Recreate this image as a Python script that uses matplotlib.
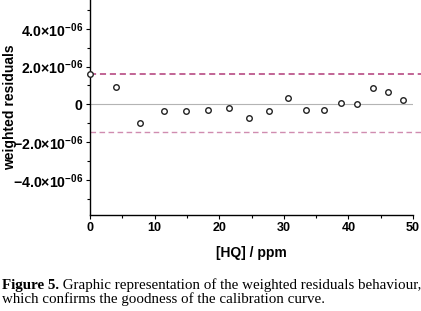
import numpy as np
import matplotlib
matplotlib.use("Agg")
import matplotlib.pyplot as plt

# values
conc = [0, 4.0, 7.7, 11.4, 14.8, 18.2, 21.5, 24.6, 27.7, 30.6, 33.4, 36.2, 38.8, 41.4, 43.8, 46.2, 48.5]
resid = [1.6e-6, 0.9e-6, -1.0e-6, -0.36e-6, -0.37e-6, -0.28e-6, -0.18e-6, -0.71e-6, -0.34e-6,
         0.35e-6, -0.32e-6, -0.30e-6, 0.05e-6, 0.03e-6, 0.86e-6, 0.63e-6, 0.23e-6]
upper_lim = 1.6e-6
lower_lim = -1.45e-6
yticks = [-4e-6, -2e-6, 0, 2e-6, 4e-6]
ylabels = [r'$\mathbf{-4.0{\times}10^{-06}}$', r'$\mathbf{-2.0{\times}10^{-06}}$', r'$\mathbf{0}$',
           r'$\mathbf{2.0{\times}10^{-06}}$', r'$\mathbf{4.0{\times}10^{-06}}$']
xticks = [0, 10, 20, 30, 40, 50]

plt.rcParams['font.family'] = ['Liberation Sans', 'DejaVu Sans']
plt.rcParams['mathtext.fontset'] = 'custom'
plt.rcParams['mathtext.rm'] = 'Liberation Sans'
plt.rcParams['mathtext.bf'] = 'Liberation Sans:bold'

fig = plt.figure(figsize=(4.21, 3.11), dpi=100)
ax = fig.add_axes([90/421, 1 - 215/311, 323/421, 215/311])

ax.axhline(0, color='#b4b4b4', lw=0.8, zorder=1)
ax.axhline(upper_lim, xmax=1.03, color='#b03a78', lw=1.1, ls=(0, (4, 2.5)), clip_on=False, zorder=2)
ax.axhline(lower_lim, xmax=1.03, color='#d08cb0', lw=1.0, ls=(0, (4, 2.5)), clip_on=False, zorder=2)
ax.plot(conc, resid, 'o', mfc='white', mec='#222222', ms=4, mew=1.0, clip_on=False, zorder=3)

ax.set_xlim(0, 50)
ax.set_ylim(-5.87e-6, 5.53e-6)
ax.set_xticks(xticks)
ax.set_xticks(np.arange(5, 50, 10), minor=True)
ax.set_xticklabels([str(t) for t in xticks], fontsize=9, fontweight='bold')
ax.set_yticks(yticks)
ax.set_yticks(np.arange(-5e-6, 5.5e-6, 1e-6), minor=True)
ax.set_yticklabels(ylabels, fontsize=10.2)

for s in ['top', 'right']:
    ax.spines[s].set_visible(False)
ax.spines['left'].set_linewidth(1.0)
ax.spines['bottom'].set_linewidth(1.0)
ax.tick_params(which='major', length=3, width=0.8, pad=2)
ax.tick_params(axis='y', which='major', pad=2)
ax.tick_params(which='minor', length=2, width=0.8)

ax.set_xlabel('[HQ] / ppm', fontsize=10, fontweight='bold', labelpad=9)
ax.set_ylabel('weighted residuals', fontsize=10, fontweight='bold')
ax.yaxis.set_label_coords(-73/323, 0.5)

# caption
t1 = fig.text(2/421, 1 - 289.5/311, 'Figure 5.', fontsize=10.8, fontweight='bold',
              family='Liberation Serif', va='baseline')
ax.annotate(' Graphic representation of the weighted residuals behaviour,', xy=(1, 0),
            xycoords=t1, fontsize=10.8, family='Liberation Serif', va='bottom', annotation_clip=False)
fig.text(2/421, 1 - 303.5/311, 'which confirms the goodness of the calibration curve.', fontsize=10.8,
         family='Liberation Serif', va='baseline')

fig.savefig('out.png', dpi=100)
